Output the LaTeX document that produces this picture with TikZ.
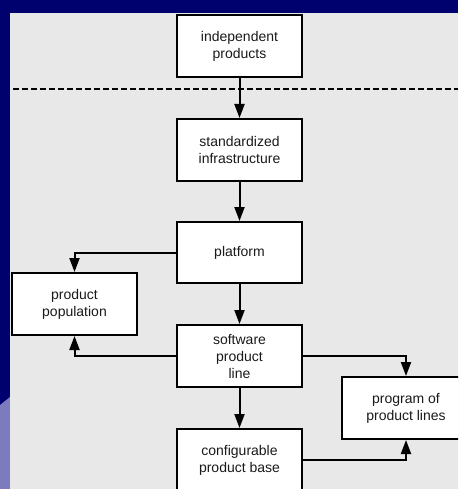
\documentclass[tikz,border=0pt]{standalone}
\usepackage{fontspec}
\setmainfont{Liberation Sans}
\usetikzlibrary{arrows.meta}
\definecolor{navy}{HTML}{00006E}
\definecolor{lavender}{HTML}{7B7BBE}
\definecolor{panel}{HTML}{E8E8E8}
\definecolor{ink}{HTML}{1A1A1A}
\begin{document}
\begin{tikzpicture}[x=1pt,y=-1pt,
  box/.style={draw=black,fill=white,line width=2pt,align=center,
    minimum width=125pt,minimum height=62pt,inner sep=2pt,
    text=ink,font=\fontsize{14}{17}\selectfont},
  flow/.style={line width=2pt,-{Triangle[length=14pt,width=10pt]}}]
  % page, background and panel
  \useasboundingbox (0,0) rectangle (458,489);
  \clip (0,0) rectangle (458,489);
  \fill[navy] (0,0) rectangle (458,489);
  \fill[lavender] (0,405) -- (10,397) -- (10,489) -- (0,489) -- cycle;
  \fill[panel] (10,13) rectangle (460,491);
  % separator
  \coordinate (dl) at (13,89);
  \coordinate (dr) at (458,89);
  \draw[line width=2pt,dash pattern=on 6pt off 3pt] (dl) -- (dr);
  % boxes
  \node[box] (indep) at (239.5,46) {independent\\products};
  \node[box] (std) at (239.5,150) {standardized\\infrastructure};
  \node[box,minimum height=61pt] (plat) at (239.5,252.5) {platform};
  \node[box] (spl) at (239.5,356) {software\\product\\line};
  \node[box] (conf) at (239.5,460) {configurable\\product base};
  \node[box] (pop) at (74.5,304) {product\\population};
  \node[box,minimum width=128pt] (prog) at (406,408) {program of\\product lines};
  % connectors
  \draw[flow] (indep) -- (std);
  \draw[flow] (std) -- (plat);
  \draw[flow] (plat) -- (spl);
  \draw[flow] (spl) -- (conf);
  \draw[flow] (plat.west) -| (pop.north);
  \draw[flow] (spl.west) -| (pop.south);
  \draw[flow] (spl.east) -| (prog.north);
  \draw[flow] (conf.east) -| (prog.south);
\end{tikzpicture}
\end{document}
